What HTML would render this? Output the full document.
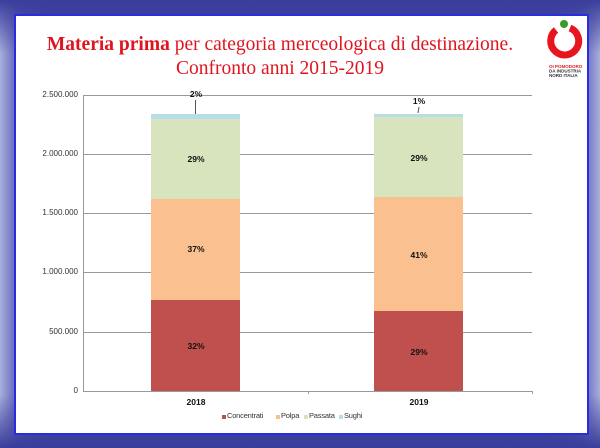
<!DOCTYPE html>
<html><head><meta charset="utf-8"><style>
html,body{margin:0;padding:0;}
body{width:600px;height:448px;position:relative;overflow:hidden;font-family:"Liberation Sans",sans-serif;
background:linear-gradient(to right,#a9aedc 0%,#5a60b8 3%,#3d43a4 8%,#3d43a4 92%,#5a60b8 97%,#a9aedc 100%);}
#bgv{position:absolute;inset:0;background:linear-gradient(to bottom,rgba(58,62,155,1) 0%,rgba(58,62,155,0) 12%,rgba(58,62,155,0) 88%,rgba(58,62,155,1) 100%);}
#panel{position:absolute;left:14px;top:14px;width:571px;height:417px;background:#fff;border:2px solid #2b2be0;}
.t{position:absolute;width:520px;text-align:center;font-family:"Liberation Serif",serif;color:#e0141e;font-size:19.5px;white-space:nowrap;}
.lab{position:absolute;font-size:8px;color:#333;text-align:right;width:60px;}
.pct{position:absolute;font-size:8.5px;font-weight:bold;color:#111;width:40px;text-align:center;}
.lg{position:absolute;top:411px;font-size:7.5px;color:#333;white-space:nowrap;letter-spacing:-0.2px}
</style></head><body>
<div id="bgv"></div>
<div id="panel"></div>
<div class="t" style="top:34px;left:20px;"><b>Materia prima</b> per categoria merceologica di destinazione.</div>
<div class="t" style="top:58px;left:20px;">Confronto anni 2015-2019</div>
<svg style="position:absolute;left:0;top:0" width="600" height="448">
<g stroke="#999" stroke-width="1">
<line x1="83" y1="95.5" x2="532" y2="95.5"/>
<line x1="83" y1="154.5" x2="532" y2="154.5"/>
<line x1="83" y1="213.5" x2="532" y2="213.5"/>
<line x1="83" y1="272.5" x2="532" y2="272.5"/>
<line x1="83" y1="332.5" x2="532" y2="332.5"/>
<line x1="83" y1="391.5" x2="532" y2="391.5"/>
<line x1="83.5" y1="95" x2="83.5" y2="391"/>
<line x1="308.5" y1="391" x2="308.5" y2="394"/>
<line x1="532.5" y1="391" x2="532.5" y2="394"/>
</g>
<rect x="151" y="300" width="89" height="91" fill="#c0504d"/>
<rect x="151" y="199" width="89" height="101" fill="#fac090"/>
<rect x="151" y="119" width="89" height="80" fill="#d7e4bd"/>
<rect x="151" y="114" width="89" height="5" fill="#b7dee8"/>
<rect x="374" y="311" width="89" height="80" fill="#c0504d"/>
<rect x="374" y="197" width="89" height="114" fill="#fac090"/>
<rect x="374" y="117" width="89" height="80" fill="#d7e4bd"/>
<rect x="374" y="114" width="89" height="3" fill="#b7dee8"/>
<line x1="195.5" y1="100" x2="195.5" y2="114" stroke="#555"/>
<line x1="419" y1="107" x2="418" y2="113" stroke="#555"/>
<rect x="222" y="415" width="4" height="4" fill="#c0504d"/>
<rect x="276" y="415" width="4" height="4" fill="#fac090"/>
<rect x="304" y="415" width="4" height="4" fill="#d7e4bd"/>
<rect x="339" y="415" width="4" height="4" fill="#b7dee8"/>
<!-- logo -->
<circle cx="564" cy="24" r="4" fill="#3a9a2a"/>
<path d="M556 30 a14 14 0 1 0 14 -2" fill="none" stroke="#e8141e" stroke-width="7"/>
<text x="549" y="68" font-size="4.5" font-family="Liberation Sans" fill="#e8141e" font-weight="bold">OI POMODORO</text>
<text x="549" y="72.5" font-size="4.5" font-family="Liberation Sans" fill="#333" font-weight="bold">DA INDUSTRIA</text>
<text x="549" y="77" font-size="4.5" font-family="Liberation Sans" fill="#333" font-weight="bold">NORD ITALIA</text>
</svg>
<div class="lab" style="left:18px;top:90px">2.500.000</div>
<div class="lab" style="left:18px;top:149px">2.000.000</div>
<div class="lab" style="left:18px;top:208px">1.500.000</div>
<div class="lab" style="left:18px;top:267px">1.000.000</div>
<div class="lab" style="left:18px;top:327px">500.000</div>
<div class="lab" style="left:18px;top:386px">0</div>
<div class="pct" style="left:176px;top:89px">2%</div>
<div class="pct" style="left:399px;top:96px">1%</div>
<div class="pct" style="left:176px;top:154px">29%</div>
<div class="pct" style="left:176px;top:244px">37%</div>
<div class="pct" style="left:176px;top:341px">32%</div>
<div class="pct" style="left:399px;top:153px">29%</div>
<div class="pct" style="left:399px;top:250px">41%</div>
<div class="pct" style="left:399px;top:347px">29%</div>
<div class="pct" style="left:176px;top:397px">2018</div>
<div class="pct" style="left:399px;top:397px">2019</div>
<div class="lg" style="left:227px">Concentrati</div>
<div class="lg" style="left:281px">Polpa</div>
<div class="lg" style="left:309px">Passata</div>
<div class="lg" style="left:344px">Sughi</div>
</body></html>
